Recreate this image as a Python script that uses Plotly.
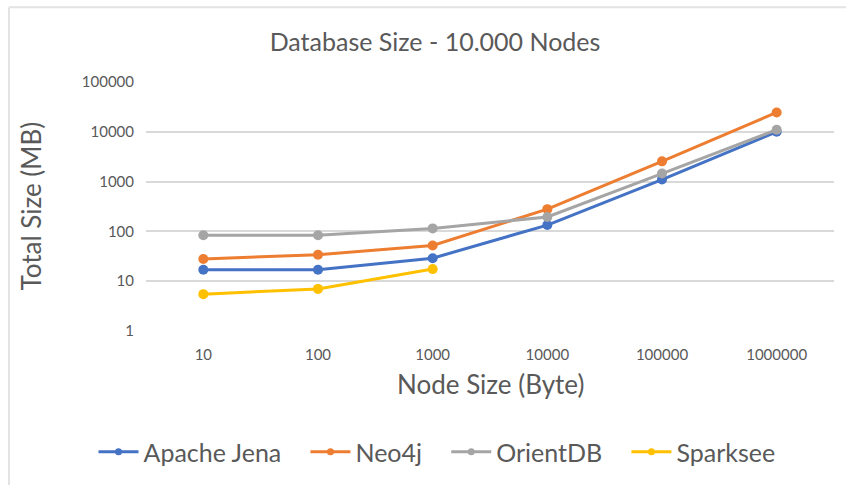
import plotly.graph_objects as go

categories = ["10", "100", "1000", "10000", "100000", "1000000"]
apache_jena = [17, 17, 29, 134, 1100, 10000]
neo4j = [28, 34, 52, 280, 2550, 24500]
orientdb = [84, 84, 115, 195, 1450, 11000]
sparksee = [5.5, 7.0, 17.5]

series_names = ["Apache Jena", "Neo4j", "OrientDB", "Sparksee"]
series_values = [apache_jena, neo4j, orientdb, sparksee]
series_colors = ["#4472C4", "#ED7D31", "#A5A5A5", "#FFC000"]

FONT = "Lato, Liberation Sans, sans-serif"
GREY = "#595959"
L, R, T, B = 146, 12, 82, 153
PW, PH = 846 - L - R, 485 - T - B
NBSP = "\u00a0"

def px_x(x):
    return (x - L) / PW

def px_y(y):
    return (485 - B - y) / PH

fig = go.Figure()
for i, (name, vals, color) in enumerate(zip(series_names, series_values, series_colors)):
    fig.add_trace(go.Scatter(
        x=categories[:len(vals)], y=vals, name=name, mode="lines+markers",
        line=dict(color=color, width=3), marker=dict(color=color, size=10),
        legendgroup=name, showlegend=False,
    ))
    # legend entry (smaller marker, like the reference's legend keys)
    label = name + (NBSP * 3 if i < len(series_names) - 1 else "")
    fig.add_trace(go.Scatter(
        x=[None], y=[None], name=label, mode="lines+markers",
        line=dict(color=color, width=3), marker=dict(color=color, size=7),
        legendgroup=name, showlegend=True,
    ))

fig.update_layout(
    width=846, height=485,
    margin=dict(l=L, r=R, t=T, b=B),
    paper_bgcolor="white", plot_bgcolor="white",
    font=dict(family=FONT, color=GREY),
    title=dict(text="Database Size - 10.000 Nodes", x=435 / 846, xref="container", xanchor="center",
               y=1 - 42 / 485, yref="container", yanchor="middle", font=dict(size=25, color=GREY)),
    xaxis=dict(type="category", categoryorder="array", categoryarray=categories,
               showgrid=False, showline=False, ticks="", zeroline=False, automargin=False,
               tickfont=dict(size=15, color=GREY), ticklabelstandoff=13,
               range=[-0.5, 5.5]),
    yaxis=dict(type="log", range=[0, 5], dtick=1, tickformat="d", automargin=False,
               showgrid=True, gridcolor="#D9D9D9", gridwidth=1.5, zeroline=False, showline=False,
               ticks="", tickfont=dict(size=15, color=GREY), ticklabelstandoff=11),
    legend=dict(orientation="h", x=px_x(437), xanchor="center", y=px_y(452), yanchor="middle",
                font=dict(size=25, color=GREY), itemwidth=40),
    showlegend=True,
)

fig.add_annotation(text="Total Size (MB)", xref="paper", yref="paper", x=px_x(30), y=0.5,
                   textangle=-90, showarrow=False, xanchor="center", yanchor="middle",
                   font=dict(size=26, color=GREY))
fig.add_annotation(text="Node Size (Byte)", xref="paper", yref="paper", x=px_x(490), y=px_y(385),
                   showarrow=False, xanchor="center", yanchor="middle",
                   font=dict(size=26, color=GREY))

fig.add_shape(type="line", xref="paper", yref="paper", x0=px_x(9), x1=px_x(860),
              y0=px_y(7), y1=px_y(7), line=dict(color="#E3E3E3", width=2))
fig.add_shape(type="line", xref="paper", yref="paper", x0=px_x(9), x1=px_x(9),
              y0=px_y(7), y1=px_y(500), line=dict(color="#E3E3E3", width=2))

fig.write_html("out.html", config={"displayModeBar": False},
               post_script="document.body.style.margin='0';")
